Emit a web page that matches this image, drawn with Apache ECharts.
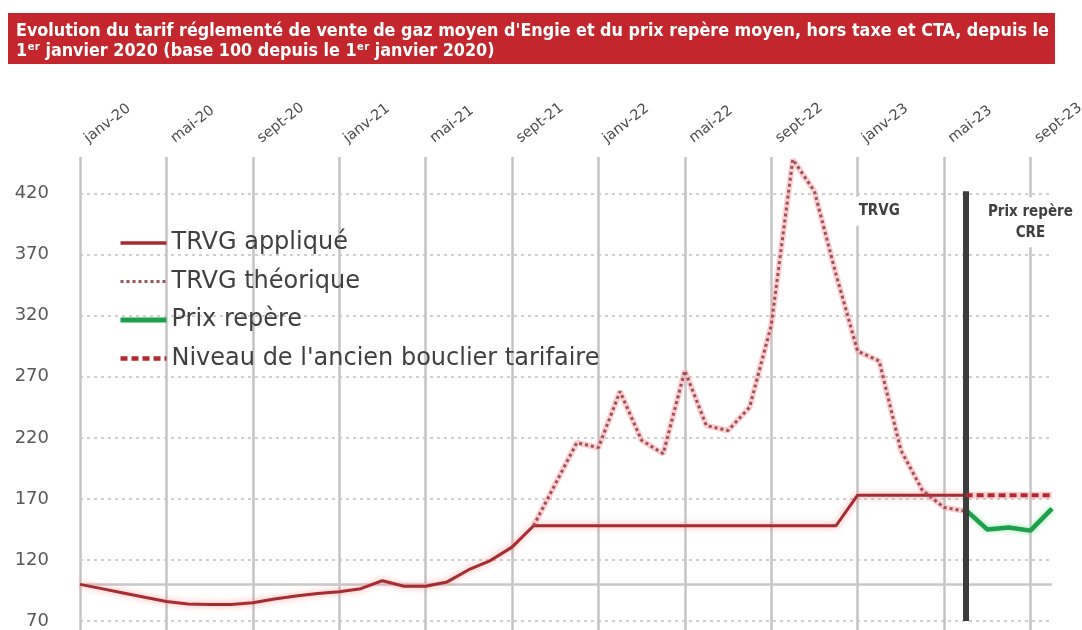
<!DOCTYPE html>
<html><head><meta charset="utf-8">
<script src="https://cdn.jsdelivr.net/npm/echarts@6/dist/echarts.min.js"></script>
<style>html,body{margin:0;padding:0;background:#fff}#c{width:1082px;height:630px}</style>
</head><body><div id="c"></div>
<script>
const categories = ['janv-20','févr-20','mars-20','avr-20','mai-20','juin-20','juil-20','août-20','sept-20','oct-20','nov-20','déc-20',
  'janv-21','févr-21','mars-21','avr-21','mai-21','juin-21','juil-21','août-21','sept-21','oct-21','nov-21','déc-21',
  'janv-22','févr-22','mars-22','avr-22','mai-22','juin-22','juil-22','août-22','sept-22','oct-22','nov-22','déc-22',
  'janv-23','févr-23','mars-23','avr-23','mai-23','juin-23','juil-23','août-23','sept-23','oct-23'];

const trvgApplique = [100,96.5,93,89.5,86,84,83.5,83.5,85,88,90.5,92.5,
  94,96.5,103,98.5,98.5,102,112,119.5,130.5,148,148,148,
  148,148,148,148,148,148,148,148,148,148,148,148,
  173,173,173,173,173,173,null,null,null,null];

const trvgTheorique = [null,null,null,null,null,null,null,null,null,null,null,null,
  null,null,null,null,null,null,null,null,null,148,182,216,
  212,258,218,207,275,230,226,245,312,448,422,354,
  291,283,210,177,163,160,null,null,null,null];

const prixRepere = [null,null,null,null,null,null,null,null,null,null,null,null,
  null,null,null,null,null,null,null,null,null,null,null,null,
  null,null,null,null,null,null,null,null,null,null,null,null,
  null,null,null,null,null,161,145,146.5,144,162];

const bouclier = [null,null,null,null,null,null,null,null,null,null,null,null,
  null,null,null,null,null,null,null,null,null,null,null,null,
  null,null,null,null,null,null,null,null,null,null,null,null,
  null,null,null,null,null,173,173,173,173,173];

const baseLevel = 100;
const seriesNames = ['TRVG appliqué','TRVG théorique','Prix repère',"Niveau de l'ancien bouclier tarifaire"];
const titleLines = ["Evolution du tarif réglementé de vente de gaz moyen d'Engie et du prix repère moyen, hors taxe et CTA, depuis le",
  "1ᵉʳ janvier 2020 (base 100 depuis le 1ᵉʳ janvier 2020)"];

const chart = echarts.init(document.getElementById('c'));
const gridColor = '#c4c4c4';
const legendWidths = [3.5, 3, 5, 4.5];
const option = {
  animation: false,
  backgroundColor: '#fff',
  graphic: [{type:'rect', shape:{x:8,y:13,width:1047,height:51}, style:{fill:'#c4262e'}, z:-1}],
  title: {
    text: titleLines.join('\n'), left: 11, top: 16,
    textStyle: {color:'#fff', fontSize:17.8, fontWeight:'bold', fontFamily:'DejaVu Sans Condensed', lineHeight:20}
  },
  legend: {
    data: seriesNames.map((n, i) => ({name:n, lineStyle:{width:legendWidths[i]}})),
    orient:'vertical', left:113, top:226,
    itemWidth:46, itemHeight:14, itemGap:14.5,
    itemStyle:{opacity:0},
    textStyle:{fontFamily:'DejaVu Sans', fontSize:24, color:'#404040', lineHeight:24}
  },
  grid: {left:80, right:30, top:157, bottom:9, outerBoundsMode:'none', containLabel:false},
  xAxis: [{
    type:'category', position:'top', data:categories, boundaryGap:false,
    axisLine:{show:false}, axisTick:{show:false},
    axisLabel:{interval:3, rotate:-38, margin:12, padding:[0,0,0,8], fontSize:14.5, color:'#4d4d4d', fontFamily:'DejaVu Sans', hideOverlap:false},
    splitLine:{show:true, interval:3, lineStyle:{color:gridColor, width:2.5}}
  },{
    type:'category', position:'bottom', data:categories, boundaryGap:false,
    axisLine:{show:false}, axisLabel:{show:false},
    axisTick:{show:true, interval:3, length:10, lineStyle:{color:gridColor, width:2.5}},
    splitLine:{show:false}
  }],
  yAxis: {
    type:'value', min:70, max:450, interval:50,
    axisLine:{show:false}, axisTick:{show:false},
    axisLabel:{showMaxLabel:false, margin:31, fontSize:18, color:'#595959', fontFamily:'DejaVu Sans'},
    splitLine:{show:true, showMaxLine:false, lineStyle:{color:'#cfcfcf', width:2, type:[3,4]}}
  },
  series: [
    {name:'halo1', type:'line', data:trvgTheorique, symbol:'none', silent:true, z:1,
     lineStyle:{color:'rgba(245,170,175,0.55)', width:6}},
    {name:'halo2', type:'line', data:bouclier, symbol:'none', silent:true, z:1,
     lineStyle:{color:'rgba(245,170,175,0.55)', width:7}},
    {name:seriesNames[0], type:'line', data:trvgApplique, symbol:'none', z:3,
     lineStyle:{color:'#a52c31', width:3, shadowColor:'rgba(250,130,135,0.8)', shadowBlur:6}, itemStyle:{color:'#a52c31'},
     markLine:{silent:true, symbol:'none', label:{show:false}, z:1,
       lineStyle:{color:'#c8c8c8', width:2.5, type:'solid'}, data:[{yAxis:baseLevel}]},
     markPoint:{symbol:'rect', symbolSize:1, itemStyle:{color:'rgba(0,0,0,0)'},
       label:{show:true, position:'inside', backgroundColor:'#fff', padding:[4,3], color:'#404040', fontWeight:'bold', fontSize:15, fontFamily:'DejaVu Sans Condensed', lineHeight:21, align:'center'},
       data:[{coord:['févr-23',405.5], label:{formatter:'TRVG'}},
             {coord:['sept-23',396.5], label:{formatter:'Prix repère\nCRE'}}]}
    },
    {name:seriesNames[1], type:'line', data:trvgTheorique, symbol:'none', z:4,
     lineStyle:{color:'#9e5258', width:3, type:[3,3]}, itemStyle:{color:'#9e5258'}},
    {name:seriesNames[2], type:'line', data:prixRepere, symbol:'none', z:5,
     lineStyle:{color:'#1f9f4b', width:4.5, shadowColor:'rgba(120,220,150,0.8)', shadowBlur:5}, itemStyle:{color:'#1f9f4b'},
     markLine:{silent:true, symbol:'none', label:{show:false}, z:6,
       lineStyle:{color:'#3c3c3c', width:6, type:'solid'},
       data:[[{coord:['juin-23',70]},{coord:['juin-23',422]}]]}
    },
    {name:seriesNames[3], type:'line', data:bouclier, symbol:'none', z:7,
     lineStyle:{color:'#b02a30', width:4, type:[7,4]}, itemStyle:{color:'#b02a30'}}
  ]
};
chart.setOption(option);
</script></body></html>
